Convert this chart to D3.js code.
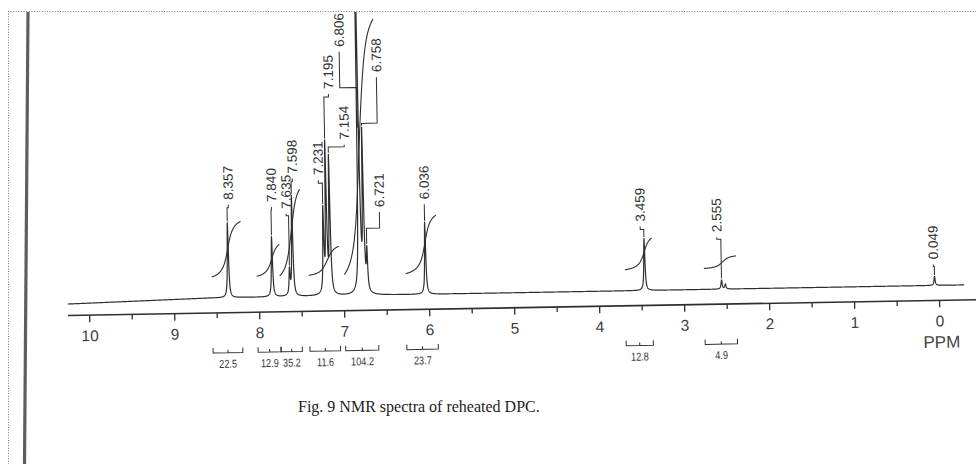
<!DOCTYPE html>
<html>
<head>
<meta charset="utf-8">
<script src="https://cdn.jsdelivr.net/npm/d3@7/dist/d3.min.js"></script>
<style>
  html, body { margin: 0; padding: 0; background: #fff; }
  svg { display: block; }
</style>
</head>
<body>
<svg id="chart" width="976" height="464"></svg>
<script>
// Picked peaks: chemical shift (ppm), peak height (relative intensity) and printed label
const peakShifts  = [8.357, 7.840, 7.635, 7.598, 7.231, 7.195, 7.154, 6.806, 6.758, 6.721, 6.036, 3.459, 2.555, 2.510, 0.049];
const peakHeights = [75, 60, 25, 100, 82, 147, 135, 420, 155, 39, 72, 52, 9, 5, 9];
const peakLabels  = ["8.357", "7.840", "7.635", "7.598", "7.231", "7.195", "7.154", "6.806", "6.758", "6.721", "6.036", "3.459", "2.555", "", "0.049"];

// Integration regions (ppm, low field to high field) and integral values
const integralFrom   = [8.55, 8.02, 7.75, 7.41, 6.99, 6.27, 3.69, 2.76];
const integralTo     = [8.20, 7.75, 7.50, 7.05, 6.60, 5.90, 3.37, 2.38];
const integralValues = [22.5, 12.9, 35.2, 11.6, 104.2, 23.7, 12.8, 4.9];

// Axis ticks (ppm)
const majorTicks = [10, 9, 8, 7, 6, 5, 4, 3, 2, 1, 0];
const minorTicks = [9.5, 8.5, 7.5, 6.5, 5.5, 4.5, 3.5, 2.5, 1.5, 0.5];

// Baseline drift at the low-field end of the trace
const driftShifts = [10.25, 8.6];
const driftValues = [-3.5, 0];

// Placement of the peak labels: text offset from the peak, text foot, leader bend, leader end
const labelLayout = [
  { dx: 1.3,  foot: 198, bend: 203 },
  { dx: 0.4,  foot: 201, bend: 206 },
  { dx: -2.3, foot: 208, bend: 212 },
  { dx: 1.2,  foot: 173, bend: 178 },
  { dx: -4,   foot: 175, bend: 180 },
  { dx: 4.6,  foot: 89,  bend: 94 },
  { dx: 16,   foot: 140, bend: 144 },
  { dx: -17,  foot: 47,  bend: 85, end: 125 },
  { dx: 15.7, foot: 73,  bend: 121 },
  { dx: 13.2, foot: 208, bend: 226 },
  { dx: 0,    foot: 201, bend: 205 },
  { dx: -3.6, foot: 227, bend: 232 },
  { dx: -4,   foot: 239, bend: 243 },
  null,
  { dx: -1,   foot: 270, bend: 274 }
];

const ink = "#2f2f2f";
const sans = "'Liberation Sans', Arial, sans-serif";

const svg = d3.select("#chart");

// scales: chemical shift runs right to left
const x = d3.scaleLinear().domain([10, 0]).range([89, 939]);
const y = d3.scaleLinear().domain([0, 100]).range([293, 193]);
const drift = d3.scaleLinear().domain(driftShifts).range(driftValues).clamp(true);

// Lorentzian line shape for each picked peak
const HW = 0.008;
function intensity(p) {
  let s = drift(p);
  for (let i = 0; i < peakShifts.length; i++) {
    const d = p - peakShifts[i];
    s += peakHeights[i] * HW * HW / (HW * HW + d * d);
  }
  return s;
}

// page frame
svg.append("line").attr("x1", 8).attr("y1", 11.5).attr("x2", 976).attr("y2", 11.5)
  .attr("stroke", "#7a7a7a").attr("stroke-width", 1).attr("stroke-dasharray", "1,1.6");
svg.append("line").attr("x1", 8.5).attr("y1", 11).attr("x2", 8.5).attr("y2", 464)
  .attr("stroke", "#7a7a7a").attr("stroke-width", 1).attr("stroke-dasharray", "1,1.6");
svg.append("line").attr("x1", 28).attr("y1", 12).attr("x2", 24.5).attr("y2", 464)
  .attr("stroke", "#5e5e5e").attr("stroke-width", 3.2);

svg.append("defs").append("clipPath").attr("id", "sheet")
  .append("rect").attr("x", 9).attr("y", 12).attr("width", 967).attr("height", 452);

const plot = svg.append("g").attr("clip-path", "url(#sheet)")
  .append("g").attr("transform", "rotate(-1,500,300)");

// spectrum trace
const samples = d3.range(10.25, -0.3, -0.002).concat(peakShifts).sort((a, b) => b - a);
const trace = d3.line().x(p => x(p)).y(p => y(intensity(p)));
plot.append("path").attr("d", trace(samples))
  .attr("fill", "none").attr("stroke", ink).attr("stroke-width", 1.2).attr("stroke-linejoin", "round");

// integral curves, one per region, rise proportional to the integral value
const WS = 0.05, RISE = 2.45, LIFT = 21;
integralFrom.forEach((hi, i) => {
  const lo = integralTo[i];
  const members = d3.range(peakShifts.length).filter(j => peakShifts[j] <= hi && peakShifts[j] >= lo);
  const S = p => d3.sum(members, j => peakHeights[j] * Math.atan((peakShifts[j] - p) / WS));
  const s0 = S(hi), s1 = S(lo);
  const pts = d3.range(hi, lo - 1e-9, -0.002);
  const curve = d3.line().x(p => x(p))
    .y(p => y(LIFT + RISE * integralValues[i] * (S(p) - s0) / (s1 - s0)));
  plot.append("path").attr("d", curve(pts))
    .attr("fill", "none").attr("stroke", ink).attr("stroke-width", 1.1);
});

// peak labels with leaders
peakShifts.forEach((p, i) => {
  const L = labelLayout[i];
  if (!L || !peakLabels[i]) return;
  const px = x(p), tx = px + L.dx;
  const top = y(intensity(p));
  const end = L.end !== undefined ? L.end : Math.max(top - 1.5, L.bend + 2);
  plot.append("path")
    .attr("d", `M${tx},${L.foot + 2}L${tx},${L.bend}L${px},${L.bend}L${px},${end}`)
    .attr("fill", "none").attr("stroke", ink).attr("stroke-width", 1);
  plot.append("text")
    .attr("transform", `translate(${tx},${L.foot - 3}) rotate(-90)`)
    .attr("dy", "0.36em")
    .attr("font-family", sans).attr("font-size", 13.5).attr("fill", ink)
    .text(peakLabels[i]);
});

// ppm axis
plot.append("line").attr("x1", x(10.25)).attr("x2", x(-0.44)).attr("y1", 308).attr("y2", 308)
  .attr("stroke", ink).attr("stroke-width", 1.6);
const gMajor = plot.append("g").attr("transform", "translate(0,308)")
  .call(d3.axisBottom(x).tickValues(majorTicks).tickSize(7).tickPadding(8).tickFormat(d3.format("d")));
gMajor.select(".domain").remove();
gMajor.selectAll("line").attr("stroke", ink).attr("stroke-width", 1.3);
gMajor.selectAll("text").attr("font-family", sans).attr("font-size", 15.5).attr("fill", "#404040");
const gMinor = plot.append("g").attr("transform", "translate(0,308)")
  .call(d3.axisBottom(x).tickValues(minorTicks).tickSize(5).tickFormat(""));
gMinor.select(".domain").remove();
gMinor.selectAll("line").attr("stroke", ink).attr("stroke-width", 1.3);

plot.append("text").attr("x", 941).attr("y", 355.5).attr("text-anchor", "middle")
  .attr("font-family", sans).attr("font-size", 17).attr("fill", "#454545").text("PPM");

// integration brackets and values (narrow plotter digits)
integralFrom.forEach((hi, i) => {
  const x0 = x(hi), x1 = x(integralTo[i]), xm = (x0 + x1) / 2, by = 348;
  plot.append("path")
    .attr("d", `M${x0},${by - 5}L${x0},${by}L${x1},${by}L${x1},${by - 5}M${xm},${by}L${xm},${by - 3}`)
    .attr("fill", "none").attr("stroke", ink).attr("stroke-width", 1);
  plot.append("text")
    .attr("transform", `translate(${xm},363) scale(0.8,1)`)
    .attr("text-anchor", "middle")
    .attr("font-family", sans)
    .attr("font-size", 11.5).attr("fill", "#3a3a3a")
    .text(integralValues[i]);
});

// caption
svg.append("text").attr("x", 298).attr("y", 412)
  .attr("font-family", "'Liberation Serif', 'Times New Roman', serif")
  .attr("font-size", 16).attr("fill", "#222")
  .text("Fig. 9 NMR spectra of reheated DPC.");
</script>
</body>
</html>
